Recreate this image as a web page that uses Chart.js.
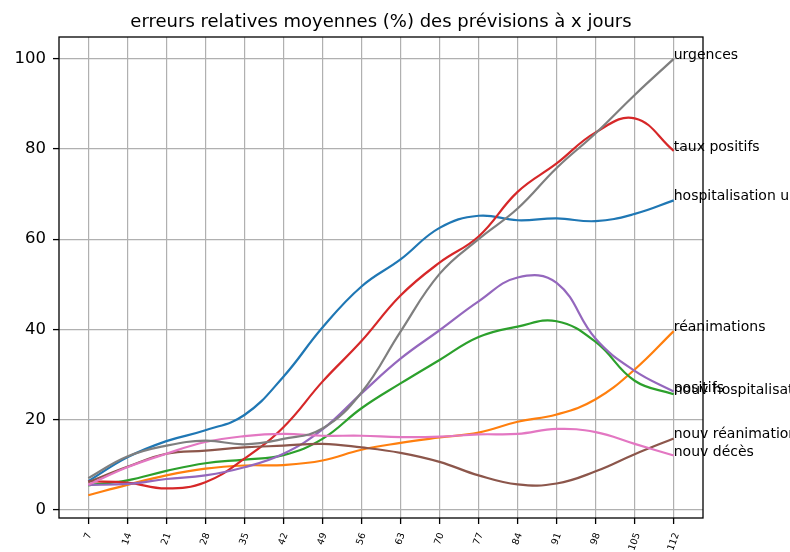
<!DOCTYPE html>
<html>
<head>
<meta charset="utf-8">
<script src="https://cdn.jsdelivr.net/npm/chart.js@4/dist/chart.umd.min.js"></script>
<style>
  body { margin: 0; background: #fff; }
</style>
</head>
<body>
<canvas id="chart" width="790" height="552"></canvas>
<script>
// horizon de prévision (jours) = ticks de l'axe x
const days = [7, 14, 21, 28, 35, 42, 49, 56, 63, 70, 77, 84, 91, 98, 105, 112];
const yTicks = [0, 20, 40, 60, 80, 100];

// erreurs relatives moyennes (%) par indicateur
const hospUrgences = [6.3, 11.6, 15.2, 17.6, 21, 29.5, 40.4, 49.5, 55.5, 62.5, 65.2, 64.2, 64.6, 64, 65.6, 68.6];
const reanimations = [3.2, 5.5, 7.6, 9.1, 9.8, 9.9, 10.9, 13.3, 14.8, 16, 17.1, 19.5, 21.1, 24.5, 31.1, 39.6];
const nouvHosp = [5.4, 6.5, 8.6, 10.3, 11.1, 12.1, 15.7, 22.5, 28, 33.2, 38.3, 40.6, 41.8, 37.2, 28.6, 25.6];
const tauxPositifs = [6.3, 6, 4.7, 6.1, 11.3, 18.3, 28.4, 37.4, 47.5, 54.8, 60.6, 70.5, 76.8, 83.7, 86.8, 79.6];
const positifs = [5.5, 5.7, 6.8, 7.6, 9.4, 12.4, 17.8, 25.8, 33.5, 39.8, 46.2, 51.5, 50.3, 37.9, 30.8, 26.2];
const nouvRea = [6.1, 9.5, 12.4, 13.1, 13.8, 14.2, 14.6, 13.8, 12.6, 10.6, 7.6, 5.6, 5.8, 8.5, 12.3, 15.8];
const nouvDeces = [5.5, 9.4, 12.4, 15, 16.3, 16.8, 16.4, 16.4, 16.1, 16.2, 16.7, 16.8, 17.9, 17.2, 14.6, 12];
const urgences = [7, 11.8, 14.2, 15.3, 14.5, 15.7, 18, 26, 39.5, 52.3, 60, 66.8, 75.8, 83.5, 92, 100];

const names = ['hospitalisation urgences', 'réanimations', 'nouv hospitalisations', 'taux positifs',
  'positifs', 'nouv réanimations', 'nouv décès', 'urgences'];
const series = [hospUrgences, reanimations, nouvHosp, tauxPositifs, positifs, nouvRea, nouvDeces, urgences];
const colors = ['#1f77b4', '#ff7f0e', '#2ca02c', '#d62728', '#9467bd', '#8c564b', '#e377c2', '#7f7f7f'];

const FONT = 'DejaVu Sans';

// fond blanc, titre, cadre, ticks x tournés et noms des courbes
const decorations = {
  id: 'decorations',
  beforeDraw(chart) {
    const ctx = chart.ctx;
    ctx.save();
    ctx.fillStyle = '#fff';
    ctx.fillRect(0, 0, chart.width, chart.height);
    ctx.restore();
  },
  afterDatasetsDraw(chart) {
    const ctx = chart.ctx;
    const xs = chart.scales.x, ys = chart.scales.y;
    ctx.save();
    ctx.fillStyle = '#000';
    ctx.font = '14px "' + FONT + '"';
    ctx.textAlign = 'left';
    ctx.textBaseline = 'alphabetic';
    series.forEach((vals, i) => {
      const last = vals.length - 1;
      ctx.fillText(names[i], xs.getPixelForValue(days[last]), ys.getPixelForValue(vals[last]));
    });
    ctx.restore();
  },
  afterDraw(chart) {
    const ctx = chart.ctx;
    const a = chart.chartArea;
    const xs = chart.scales.x;
    ctx.save();
    // cadre
    ctx.strokeStyle = '#000';
    ctx.lineWidth = 1.3;
    ctx.strokeRect(a.left, a.top, a.right - a.left, a.bottom - a.top);
    // titre
    ctx.fillStyle = '#000';
    ctx.font = '18px "' + FONT + '"';
    ctx.textAlign = 'center';
    ctx.textBaseline = 'alphabetic';
    ctx.fillText('erreurs relatives moyennes (%) des prévisions à x jours', (a.left + a.right) / 2, 27);
    // labels x tournés de 70°
    const ang = 70 * Math.PI / 180;
    const fs = 9.5;
    ctx.font = fs + 'px "' + FONT + '"';
    ctx.textBaseline = 'middle';
    days.forEach(d => {
      const txt = String(d);
      const w = ctx.measureText(txt).width;
      const h = fs * 0.73;
      const H = w * Math.sin(ang) + h * Math.cos(ang);
      ctx.save();
      ctx.translate(xs.getPixelForValue(d), a.bottom + 14 + H / 2);
      ctx.rotate(-ang);
      ctx.fillText(txt, 0, 0);
      ctx.restore();
    });
    ctx.restore();
  }
};

const gridOpts = {
  color: '#b0b0b0',
  lineWidth: 1.2,
  tickLength: 6,
  tickColor: '#000',
  tickWidth: 1.3
};

new Chart(document.getElementById('chart'), {
  type: 'line',
  data: {
    datasets: series.map((vals, i) => ({
      label: names[i],
      data: vals.map((v, j) => ({ x: days[j], y: v })),
      borderColor: colors[i],
      backgroundColor: colors[i],
      borderWidth: 2.2,
      pointRadius: 0,
      tension: 0.42,
      fill: false,
      order: series.length - i
    }))
  },
  options: {
    responsive: false,
    animation: false,
    devicePixelRatio: 1,
    layout: { padding: { top: 37, right: 87, left: 0, bottom: 0 } },
    plugins: {
      legend: { display: false },
      tooltip: { enabled: false }
    },
    scales: {
      x: {
        type: 'linear',
        min: 1.75,
        max: 117.25,
        afterBuildTicks: s => { s.ticks = days.map(v => ({ value: v })); },
        afterFit: s => { s.height = 34; },
        ticks: { display: false },
        grid: gridOpts,
        border: { display: false }
      },
      y: {
        type: 'linear',
        min: -1.85,
        max: 104.85,
        afterBuildTicks: s => { s.ticks = yTicks.map(v => ({ value: v })); },
        afterFit: s => { s.width = 59; },
        ticks: { color: '#000', font: { family: FONT, size: 16.5 }, padding: 7 },
        grid: gridOpts,
        border: { display: false }
      }
    }
  },
  plugins: [decorations]
});
</script>
</body>
</html>
